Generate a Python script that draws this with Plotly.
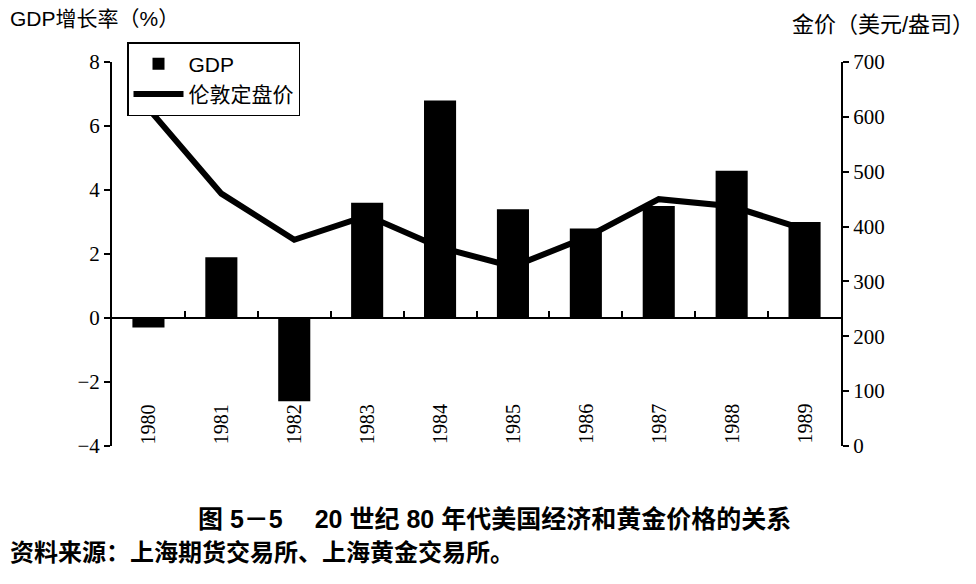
import plotly.graph_objects as go

years = ["1980", "1981", "1982", "1983", "1984", "1985", "1986", "1987", "1988", "1989"]
gdp_growth = [-0.3, 1.9, -2.6, 3.6, 6.8, 3.4, 2.8, 3.5, 4.6, 3.0]
gold_price = [615, 460, 376, 420, 362, 327, 380, 450, 437, 395]

left_ticks = [8, 6, 4, 2, 0, -2, -4]
right_ticks = [700, 600, 500, 400, 300, 200, 100, 0]
left_range = [-4, 8]
right_range = [0, 700]

# page body has an 8px margin; size the figure so it fits the 976x584 window
O = 8
W, H = 976 - O, 584 - O
L, R, T, B = 112 - O, 135, 62 - O, 138
pw, ph = W - L - R, H - T - B

def px(x):  # screen pixel -> paper x
    return (x - O - L) / pw

def py(y):  # screen pixel -> paper y
    return (H - B - (y - O)) / ph

serif = "Liberation Serif, Times New Roman, serif"
cjk = "Liberation Sans, Noto Sans CJK SC, sans-serif"

fig = go.Figure()
fig.add_trace(go.Bar(
    x=years, y=gdp_growth, name="GDP", marker=dict(color="black", line=dict(width=0)),
    width=0.44, yaxis="y", xaxis="x"))
fig.add_trace(go.Scatter(
    x=years, y=gold_price, name="伦敦定盘价", mode="lines",
    line=dict(color="black", width=6), yaxis="y2", xaxis="x"))

zero_pos = (0 - left_range[0]) / (left_range[1] - left_range[0])
n = len(years)

fig.update_layout(
    width=W, height=H,
    margin=dict(l=L, r=R, t=T, b=B, pad=0),
    paper_bgcolor="white", plot_bgcolor="white",
    showlegend=True,
    legend=dict(x=px(127), y=py(42), xanchor="left", yanchor="top",
                bordercolor="black", borderwidth=1.5, bgcolor="white",
                font=dict(family=cjk, size=21, color="black"),
                tracegroupgap=0, itemwidth=50),
    xaxis=dict(type="category", categoryorder="array", categoryarray=years,
               range=[-0.5, n - 0.5],
               showline=False, showgrid=False, ticks="", zeroline=False,
               showticklabels=False),
    xaxis2=dict(type="linear", overlaying="x", anchor="free", position=zero_pos,
                side="bottom", range=[-0.5, n - 0.5],
                tickmode="array", tickvals=[i + 0.5 for i in range(n - 1)],
                showticklabels=False, ticks="inside", ticklen=6, tickwidth=1.5,
                tickcolor="black", showline=True, linecolor="black", linewidth=2,
                showgrid=False, zeroline=False),
    yaxis=dict(range=left_range, tickmode="array", tickvals=left_ticks,
               showline=True, linecolor="black", linewidth=2,
               ticks="outside", ticklen=6, tickwidth=2, tickcolor="black",
               showgrid=False, zeroline=False,
               tickfont=dict(family=serif, size=21, color="black")),
    yaxis2=dict(range=right_range, tickmode="array", tickvals=right_ticks,
                overlaying="y", side="right", anchor="x",
                showline=True, linecolor="black", linewidth=2,
                ticks="outside", ticklen=6, tickwidth=2, tickcolor="black",
                showgrid=False, zeroline=False,
                tickfont=dict(family=serif, size=21, color="black")),
)

# invisible helper so the zero-line axis is rendered
fig.add_trace(go.Scatter(x=[-0.5, n - 0.5], y=[0, 0], xaxis="x2", yaxis="y",
                         mode="lines", line=dict(width=0), showlegend=False,
                         hoverinfo="skip"))

# rotated year labels sitting on the bottom of the plot area
for i, yr in enumerate(years):
    fig.add_annotation(text=yr, x=i, y=0, xref="x", yref="paper",
                       textangle=-90, xanchor="center", yanchor="bottom",
                       yshift=0, showarrow=False,
                       font=dict(family=serif, size=20, color="black"))

fig.add_annotation(text="GDP增长率（%）", xref="paper", yref="paper",
                   x=px(8), y=py(19), xanchor="left", yanchor="middle",
                   showarrow=False, font=dict(family=cjk, size=21, color="black"))
fig.add_annotation(text="金价（美元/盎司）", xref="paper", yref="paper",
                   x=px(976), y=py(24), xanchor="right", yanchor="middle",
                   showarrow=False, font=dict(family=cjk, size=22, color="black"))
fig.add_annotation(text="<b>图 5－5　 20 世纪 80 年代美国经济和黄金价格的关系</b>",
                   xref="paper", yref="paper", x=px(494), y=py(519),
                   xanchor="center", yanchor="middle", showarrow=False,
                   font=dict(family=cjk, size=25, color="black"))
fig.add_annotation(text="<b>资料来源：上海期货交易所、上海黄金交易所。</b>",
                   xref="paper", yref="paper", x=px(8), y=py(552),
                   xanchor="left", yanchor="middle", showarrow=False,
                   font=dict(family=cjk, size=24, color="black"))

fig.write_html("out.html")
